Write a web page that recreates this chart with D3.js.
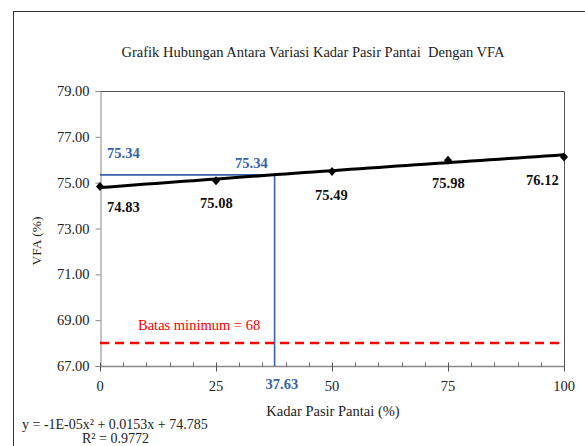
<!DOCTYPE html>
<html>
<head>
<meta charset="utf-8">
<script src="https://cdn.jsdelivr.net/npm/d3@7"></script>
<style>
  html, body { margin: 0; padding: 0; background: #fff; }
  svg { display: block; }
</style>
</head>
<body>
<svg id="chart" width="585" height="446"></svg>
<script>
// Measured data: sand content (%) vs VFA (%)
const kadar = [0, 25, 50, 75, 100];
const vfa = [74.83, 75.08, 75.49, 75.98, 76.12];
const dataLabels = ["74.83", "75.08", "75.49", "75.98", "76.12"];

// Polynomial trendline coefficients: y = a x^2 + b x + c
const trendCoef = [-1e-5, 0.0153, 74.785];
const trendText = "y = -1E-05x\u00B2 + 0.0153x + 74.785";
const r2Text = "R\u00B2 = 0.9772";

// Reading at the target: x = 37.63 gives VFA = 75.34
const target = [37.63, 75.34];
const batasMin = 68;

const yTicks = [67, 69, 71, 73, 75, 77, 79];
const xTicks = [0, 25, 50, 75, 100];
const xMinorTicks = d3.range(0, 101, 5);

const FONT = "'Liberation Serif', 'Times New Roman', Times, serif";

const svg = d3.select("#chart").attr("font-family", FONT);

// Outer chart frame
svg.append("rect")
  .attr("x", 13.5).attr("y", 11.5)
  .attr("width", 600).attr("height", 460)
  .attr("fill", "#fff").attr("stroke", "#333").attr("stroke-width", 1);

const plot = { left: 100, right: 564, top: 91, bottom: 366 };
const x = d3.scaleLinear().domain([0, 100]).range([plot.left, plot.right]);
const y = d3.scaleLinear().domain([67, 79]).range([plot.bottom, plot.top]);

function txt(sel) {
  return sel.attr("font-family", FONT).style("font-family", FONT);
}

// Title
txt(svg.append("text"))
  .attr("x", 313).attr("y", 57)
  .attr("text-anchor", "middle")
  .attr("font-size", 14.5).attr("fill", "#222")
  .text("Grafik Hubungan Antara Variasi Kadar Pasir Pantai\u00A0 Dengan VFA");

// Plot frame (top and right edges)
svg.append("path")
  .attr("d", `M${plot.left},${plot.top + 0.5}H${plot.right + 0.5}V${plot.bottom}`)
  .attr("fill", "none").attr("stroke", "#555").attr("stroke-width", 1);

// Y axis
const yAxis = svg.append("g")
  .attr("transform", `translate(${plot.left + 0.5},0)`)
  .call(d3.axisLeft(y).tickValues(yTicks).tickFormat(d3.format(".2f")).tickSize(5).tickPadding(6));
yAxis.attr("font-family", FONT);
yAxis.select(".domain").attr("stroke", "#888");
yAxis.selectAll(".tick line").attr("stroke", "#888");
txt(yAxis.selectAll(".tick text"))
  .attr("font-size", 14.5).attr("fill", "#222");

// X axis: minor ticks inside, major ticks crossing
const xg = svg.append("g").attr("transform", `translate(0,${plot.bottom + 0.5})`);
xg.append("line")
  .attr("x1", plot.left).attr("x2", plot.right + 0.5)
  .attr("stroke", "#888").attr("stroke-width", 1.5);
xg.selectAll("line.minor").data(xMinorTicks.filter(d => d % 25 !== 0)).enter()
  .append("line").attr("class", "minor")
  .attr("x1", d => Math.round(x(d)) + 0.5).attr("x2", d => Math.round(x(d)) + 0.5)
  .attr("y1", 0).attr("y2", -4)
  .attr("stroke", "#666");
xg.selectAll("line.major").data(xTicks).enter()
  .append("line").attr("class", "major")
  .attr("x1", d => Math.round(x(d)) + 0.5).attr("x2", d => Math.round(x(d)) + 0.5)
  .attr("y1", -4).attr("y2", 5)
  .attr("stroke", "#555");
txt(xg.selectAll("text.xt").data(xTicks).enter()
  .append("text").attr("class", "xt"))
  .attr("x", d => x(d)).attr("y", 24)
  .attr("text-anchor", "middle")
  .attr("font-size", 14.5).attr("fill", "#222")
  .text(d => d);

// Axis titles
txt(svg.append("text"))
  .attr("transform", "translate(41,241) rotate(-90)")
  .attr("text-anchor", "middle")
  .attr("font-size", 13.5).attr("fill", "#222")
  .text("VFA (%)");
txt(svg.append("text"))
  .attr("x", 333).attr("y", 416)
  .attr("text-anchor", "middle")
  .attr("font-size", 14.5).attr("fill", "#222")
  .text("Kadar Pasir Pantai (%)");

// Trendline equation
txt(svg.append("text"))
  .attr("x", 22).attr("y", 429)
  .attr("font-size", 14).attr("fill", "#222")
  .text(trendText);
txt(svg.append("text"))
  .attr("x", 82).attr("y", 443)
  .attr("font-size", 14).attr("fill", "#222")
  .text(r2Text);

// Minimum limit line
svg.append("line")
  .attr("x1", x(0)).attr("x2", x(100))
  .attr("y1", y(batasMin)).attr("y2", y(batasMin))
  .attr("stroke", "#ff0000").attr("stroke-width", 2.5)
  .attr("stroke-dasharray", "9,6");
txt(svg.append("text"))
  .attr("x", 138).attr("y", 330)
  .attr("font-size", 14.5).attr("fill", "#ff0000")
  .text("Batas minimum = " + batasMin);

// Target reading guide lines
const blue = "#3a62a7";
svg.append("path")
  .attr("d", `M${x(0)},${y(target[1])}H${x(target[0])}V${y(67)}`)
  .attr("fill", "none").attr("stroke", blue).attr("stroke-width", 1.6);
txt(svg.append("text"))
  .attr("x", 107).attr("y", 158)
  .attr("font-size", 14.5).attr("font-weight", "bold").attr("fill", blue)
  .text(target[1].toFixed(2));
txt(svg.append("text"))
  .attr("x", 235).attr("y", 168)
  .attr("font-size", 14.5).attr("font-weight", "bold").attr("fill", blue)
  .text(target[1].toFixed(2));
txt(svg.append("text"))
  .attr("x", x(target[0]) - 9).attr("y", 389)
  .attr("font-size", 14.5).attr("font-weight", "bold").attr("fill", blue)
  .text(target[0].toFixed(2));

// Trendline curve
const trend = xs => trendCoef[0] * xs * xs + trendCoef[1] * xs + trendCoef[2];
const curvePts = d3.range(0, 100.01, 2).map(v => [v, trend(v)]);
svg.append("path")
  .datum(curvePts)
  .attr("d", d3.line().x(d => x(d[0])).y(d => y(d[1])))
  .attr("fill", "none").attr("stroke", "#000").attr("stroke-width", 3);

// Data markers (diamonds)
svg.selectAll("path.pt").data(kadar).enter()
  .append("path").attr("class", "pt")
  .attr("transform", (d, i) => `translate(${x(d)},${y(vfa[i])})`)
  .attr("d", "M0,-4.5L4,0L0,4.5L-4,0Z")
  .attr("fill", "#000");

// Data value labels
const labelPos = [[107, 212], [200, 208], [315, 200], [432, 188], [526, 185]];
txt(svg.selectAll("text.dl").data(dataLabels).enter()
  .append("text").attr("class", "dl"))
  .attr("x", (d, i) => labelPos[i][0]).attr("y", (d, i) => labelPos[i][1])
  .attr("font-size", 14.5).attr("font-weight", "bold").attr("fill", "#111")
  .text(d => d);
</script>
</body>
</html>
